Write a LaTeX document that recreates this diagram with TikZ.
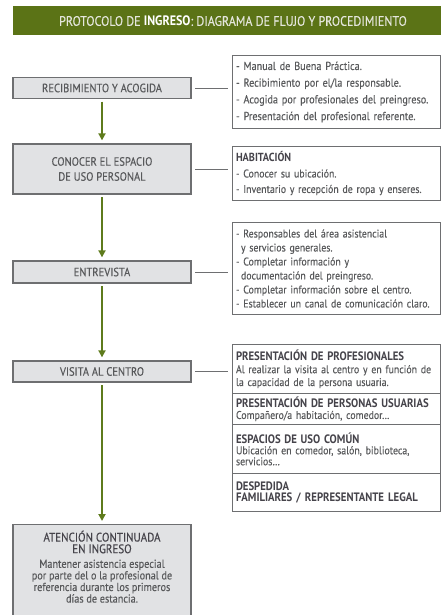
\documentclass[tikz,border=0pt]{standalone}
\usepackage{fontspec}
\setmainfont{PT Sans}[FakeStretch=0.88, UprightFeatures={FakeBold=0.25}]
\usetikzlibrary{arrows.meta}
\definecolor{bannergreen}{HTML}{5B7316}
\definecolor{flowgreen}{HTML}{5E7B1C}
\definecolor{boxfill}{HTML}{E1E2E4}
\definecolor{boxline}{HTML}{6E6F71}
\definecolor{txtgray}{HTML}{58595B}
\definecolor{headgray}{HTML}{45434A}
\definecolor{bannertxt}{HTML}{E4E6DC}
\begin{document}
\begin{tikzpicture}[x=1pt,y=-1pt,
  lbox/.style={draw=boxline, fill=boxfill, line width=1.3pt, minimum width=178pt, align=center, text=txtgray, font=\fontsize{12}{15}\selectfont, inner sep=2pt},
  rbox/.style={draw=boxline, line width=1pt, anchor=north west, minimum width=208pt, text width=201pt, inner xsep=3.5pt, inner ysep=2pt, align=left, text=txtgray},
  flow/.style={draw=flowgreen, line width=2pt, -{Triangle[width=7pt,length=7pt]}, shorten <=2.5pt, shorten >=3pt},
  link/.style={draw=boxline, line width=0.9pt, shorten <=3.5pt, shorten >=4pt}
  ]
\useasboundingbox (0,0) rectangle (441,615);
% banner
\node[fill=bannergreen, minimum width=428pt, minimum height=29pt, anchor=north west, inner sep=0pt] (banner) at (13,6) {};
\node[text=bannertxt, font=\fontsize{13.7}{13}\selectfont, inner sep=0pt] (title) at (233,21) {PROTOCOLO DE \textbf{\textcolor{white}{INGRESO}}: DIAGRAMA DE FLUJO Y PROCEDIMIENTO};
% left boxes
\node[lbox, minimum height=21pt] (l1) at (102,88) {RECIBIMIENTO Y ACOGIDA};
\node[lbox, minimum height=50pt] (l2) at (102,169) {CONOCER EL ESPACIO\\DE USO PERSONAL};
\node[lbox, minimum height=22pt] (l3) at (102,272) {ENTREVISTA};
\node[lbox, minimum height=21pt] (l4) at (102,371.5) {VISITA AL CENTRO};
\node[lbox, minimum height=100pt, anchor=north] (l5) at (102,524) {};
\node[anchor=north, align=center, text=txtgray, font=\fontsize{11.6}{11.6}\selectfont, inner sep=0pt] (l5t) at (102,530.5)
  {\textcolor{headgray}{\fontsize{12.5}{12}\selectfont ATENCIÓN CONTINUADA}\\\textcolor{headgray}{\fontsize{12.5}{12}\selectfont EN INGRESO}\\[3pt]Mantener asistencia especial\\por parte del o la profesional de\\referencia durante los primeros\\días de estancia.};
% right boxes
\node[rbox, minimum height=73pt, font=\fontsize{11.6}{16.7}\selectfont] (r1) at (232,55)
  {- Manual de Buena Práctica.\\- Recibimiento por el/la responsable.\\- Acogida por profesionales del preingreso.\\- Presentación del profesional referente.};
\node[rbox, minimum height=54pt, font=\fontsize{11.2}{15.5}\selectfont] (r2) at (232,146)
  {\textcolor{headgray}{\fontsize{11.7}{15.5}\selectfont\bfseries HABITACIÓN}\\- Conocer su ubicación.\\- Inventario y recepción de ropa y enseres.};
\node[rbox, minimum height=92pt, font=\fontsize{11.2}{14}\selectfont] (r3) at (232,222)
  {- Responsables del área asistencial\\\hspace*{5pt}y servicios generales.\\- Completar información y\\\hspace*{5pt}documentación del preingreso.\\- Completar información sobre el centro.\\- Establecer un canal de comunicación claro.};
\node[rbox, minimum height=49pt, font=\fontsize{11.2}{12.8}\selectfont] (r4a) at (232,344)
  {\textcolor{headgray}{\fontsize{12.2}{12.8}\selectfont\bfseries PRESENTACIÓN DE PROFESIONALES}\\Al realizar la visita al centro y en función de\\la capacidad de la persona usuaria.};
\node[rbox, minimum height=31pt, font=\fontsize{11.2}{11.5}\selectfont] (r4b) at (232,393)
  {\textcolor{headgray}{\fontsize{12.2}{11.5}\selectfont\bfseries PRESENTACIÓN DE PERSONAS USUARIAS}\\Compañero/a habitación, comedor…};
\node[rbox, minimum height=49pt, font=\fontsize{11.2}{11}\selectfont] (r4c) at (232,424)
  {\textcolor{headgray}{\fontsize{12.2}{11}\selectfont\bfseries ESPACIOS DE USO COMÚN}\\Ubicación en comedor, salón, biblioteca,\\servicios…};
\node[rbox, minimum height=38pt, font=\fontsize{12.2}{11.5}\selectfont\bfseries, text=headgray] (r4d) at (232,473)
  {DESPEDIDA\\FAMILIARES / REPRESENTANTE LEGAL};
% connectors
\draw[link] (l1.east) -- (l1.east -| r1.west);
\draw[link] (l2.east) -- (l2.east -| r2.west);
\draw[link] (l3.east) -- (l3.east -| r3.west);
\draw[link] (l4.east) -- (l4.east -| r4a.west);
% flow arrows
\draw[flow] (l1) -- (l2);
\draw[flow] (l2) -- (l3);
\draw[flow] (l3) -- (l4);
\draw[flow] (l4) -- (l5);
\end{tikzpicture}
\end{document}
